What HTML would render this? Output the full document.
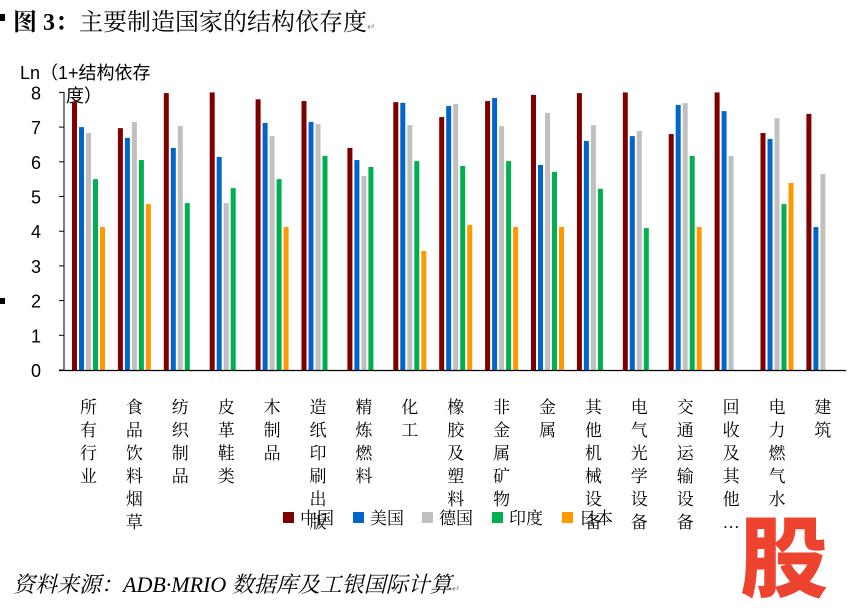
<!DOCTYPE html>
<html><head><meta charset="utf-8"><style>
html,body{margin:0;padding:0;background:#fff;width:855px;height:608px;overflow:hidden}
svg{display:block}
</style></head><body>
<svg id="s" width="855" height="608" xmlns="http://www.w3.org/2000/svg">
<rect x="0" y="14" width="5" height="7" fill="#000"/>
<rect x="0" y="298" width="5" height="6" fill="#000"/>
<text x="13" y="30" font-family="'Liberation Serif','Noto Serif CJK SC',serif" font-size="24" fill="#000"><tspan font-weight="bold">图 3：</tspan>主要制造国家的结构依存度<tspan font-size="10" fill="#888">↵</tspan></text>
<text x="20" y="79" font-family="'Liberation Sans','Noto Sans CJK SC',sans-serif" font-size="18" fill="#000">Ln（1+结构依存</text>
<text x="66" y="102" font-family="'Liberation Sans','Noto Sans CJK SC',sans-serif" font-size="18" fill="#000">度）</text>
<g id="g"></g>
<line x1="64" y1="92" x2="64" y2="370" stroke="#000" stroke-width="1"/>
<line x1="59" y1="370.5" x2="846" y2="370.5" stroke="#000" stroke-width="1.2"/>
<g font-family="'Liberation Serif','Noto Serif CJK SC',serif" font-size="17" fill="#000">
<rect x="283" y="512" width="11" height="11" fill="#800000"/><text x="300" y="524">中国</text>
<rect x="353" y="512" width="11" height="11" fill="#0066cc"/><text x="370" y="524">美国</text>
<rect x="422" y="512" width="11" height="11" fill="#c0c0c0"/><text x="439" y="524">德国</text>
<rect x="492" y="512" width="11" height="11" fill="#00b050"/><text x="509" y="524">印度</text>
<rect x="562" y="512" width="11" height="11" fill="#ff9900"/><text x="579" y="524">日本</text>
</g>
<text x="13" y="592" font-family="'Liberation Serif','Noto Serif CJK SC',serif" font-style="italic" font-size="22" fill="#000">资料来源：ADB·MRIO 数据库及工银国际计算<tspan font-size="10" font-style="normal" fill="#888">↵</tspan></text>
<text x="740" y="590" font-family="'Noto Sans CJK SC','WenQuanYi Zen Hei',sans-serif" font-weight="900" font-size="88" fill="#ee432e">股</text>
</svg>
<script>
var D=[[7.73,7.0,6.83,5.5,4.12],[6.97,6.69,7.15,6.05,4.78],[7.98,6.4,7.03,4.81,0],[8.0,6.14,4.81,5.24,0],[7.8,7.12,6.74,5.5,4.12],[7.75,7.15,7.09,6.17,0],[6.4,6.05,5.59,5.85,0],[7.72,7.7,7.06,6.02,3.43],[7.29,7.61,7.67,5.88,4.18],[7.75,7.84,7.03,6.02,4.12],[7.93,5.91,7.41,5.71,4.12],[7.98,6.6,7.06,5.22,0],[8.0,6.74,6.89,4.09,0],[6.8,7.64,7.69,6.17,4.12],[8.0,7.46,6.17,0,0],[6.83,6.66,7.26,4.78,5.39],[7.38,4.12,5.65,0,0]];
var L=["所有行业","食品饮料烟草","纺织制品","皮革鞋类","木制品","造纸印刷出版","精炼燃料","化工","橡胶及塑料","非金属矿物","金属","其他机械设备","电气光学设备","交通运输设备","回收及其他…","电力燃气水","建筑"];
var C=["#800000","#0066cc","#c0c0c0","#00b050","#ff9900"];
var g=document.getElementById("g"),h="";
var u=34.7,y0=370;
for(var i=0;i<=8;i++){var y=y0-i*u;h+='<line x1="59" y1="'+y+'" x2="64" y2="'+y+'" stroke="#000"/>';h+='<text x="31" y="'+(y+7)+'" font-family="Liberation Sans,sans-serif" font-size="18">'+i+'</text>';}
for(var c=0;c<17;c++){var x0=72+45.9*c;for(var k=0;k<5;k++){var v=D[c][k];if(!v)continue;h+='<rect x="'+(x0+k*7)+'" y="'+(y0-v*u)+'" width="5" height="'+(v*u)+'" fill="'+C[k]+'"/>';}
var s=L[c];var a=s.indexOf("…")>=0?s.replace("…","").split("").concat(["…"]):s.split("");
for(var j=0;j<a.length;j++){h+='<text x="'+(x0+16.5)+'" y="'+(413+j*23)+'" text-anchor="middle" font-family="Liberation Serif,Noto Serif CJK SC,serif" font-size="17">'+a[j]+'</text>';}}
g.innerHTML=h;
</script>
</body></html>
